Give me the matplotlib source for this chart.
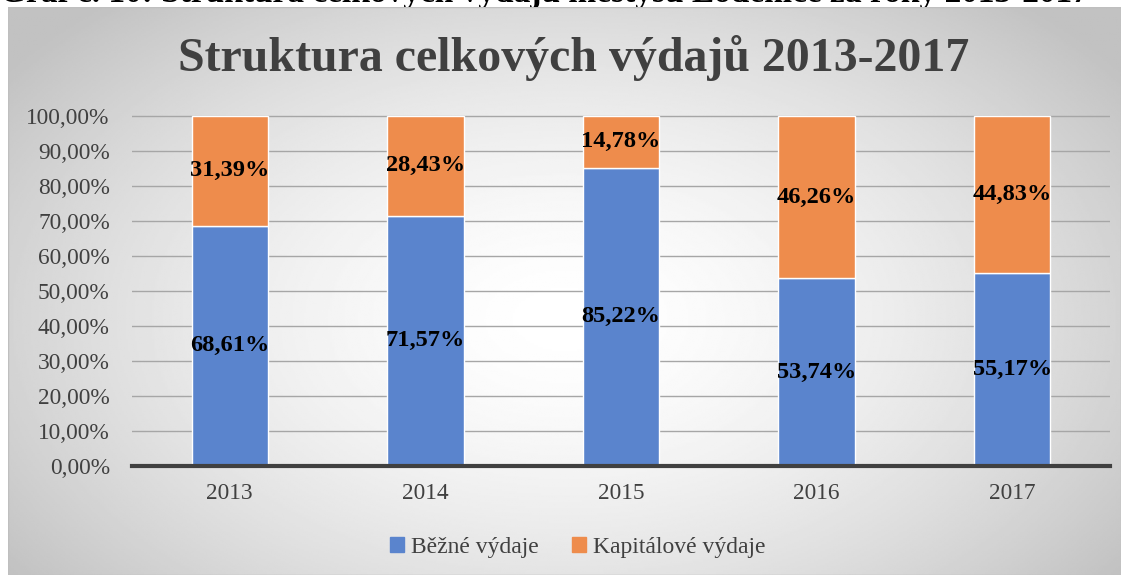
import numpy as np
import matplotlib.pyplot as plt
from matplotlib.patches import Rectangle

# data
years = ["2013", "2014", "2015", "2016", "2017"]
bezne = [68.61, 71.57, 85.22, 53.74, 55.17]
kapitalove = [31.39, 28.43, 14.78, 46.26, 44.83]
yticks = [0, 10, 20, 30, 40, 50, 60, 70, 80, 90, 100]

title = "Struktura celkových výdajů 2013-2017"
caption = "Graf č. 10: Struktura celkových výdajů městysu Lodenice za roky 2013-2017"
series_names = ["Běžné výdaje", "Kapitálové výdaje"]

blue = "#5a84cd"
orange = "#ee8c4c"
serif = ["Liberation Serif", "DejaVu Serif"]
plt.rcParams['font.family'] = serif

W, H = 1129, 575
fig = plt.figure(figsize=(W / 100, H / 100), dpi=100)
fig.patch.set_facecolor("white")

# cut-off caption at the top of the page (page text above the chart)
fig.text(0.0, 1 - 2 / H, caption, fontsize=24, fontweight="bold",
         ha="left", va="baseline", color="black", zorder=0)

# radial gradient background of the chart area
bg = fig.add_axes([8 / W, 0, 1113 / W, 568 / H])
bg.set_zorder(1)
yy, xx = np.mgrid[0:1:300j, 0:1:600j]
r = np.sqrt(((xx - 0.5) / 0.62) ** 2 + ((yy - 0.55) / 0.75) ** 2)
val = 1.0 - 0.24 * np.clip(r, 0, 1) ** 1.6
bg.imshow(val, cmap="gray", vmin=0, vmax=1, aspect="auto", extent=[0, 1, 0, 1])
bg.set_axis_off()
bg.add_patch(Rectangle((0, 0), 1, 1, transform=bg.transAxes, fill=False,
                       edgecolor="#bfbfbf", lw=1))

ax = fig.add_axes([132 / W, 109 / H, 978 / W, 357 / H])
ax.set_zorder(2)
ax.patch.set_alpha(0)
x = np.arange(len(years))
ax.bar(x, bezne, width=0.39, color=blue, edgecolor="white", linewidth=1, zorder=3)
ax.bar(x, kapitalove, bottom=bezne, width=0.39, color=orange, edgecolor="white",
       linewidth=1, zorder=3)

for i in range(len(years)):
    ax.text(x[i], bezne[i] / 2, f"{bezne[i]:.2f}%".replace(".", ","),
            ha="center", va="center", fontsize=17.6, fontweight="bold", zorder=4)
    ax.text(x[i], bezne[i] + kapitalove[i] / 2, f"{kapitalove[i]:.2f}%".replace(".", ","),
            ha="center", va="center", fontsize=17.6, fontweight="bold", zorder=4)

ax.set_xlim(-0.5, len(years) - 0.5)
ax.set_ylim(0, 102)
ax.set_yticks(yticks)
ax.set_yticklabels([f"{t:.2f}%".replace(".", ",") for t in yticks])
ax.set_xticks(x)
ax.set_xticklabels(years)
ax.tick_params(axis="both", length=0, labelsize=16.8, colors="#404040")
ax.tick_params(axis="y", pad=16)
ax.tick_params(axis="x", pad=12)
ax.grid(axis="y", color="#a6a6a6", linewidth=1, zorder=0)
for s in ["top", "right", "left"]:
    ax.spines[s].set_visible(False)
ax.spines["bottom"].set_color("#404040")
ax.spines["bottom"].set_linewidth(3)
ax.spines["bottom"].set_zorder(5)

fig.text(574 / W, 1 - 58 / H, title, fontsize=34.5, fontweight="bold",
         color="#404040", ha="center", va="center", zorder=3)

handles = [Rectangle((0, 0), 1, 1, color=blue), Rectangle((0, 0), 1, 1, color=orange)]
leg = fig.legend(handles, series_names, loc="center", bbox_to_anchor=(578 / W, 1 - 547 / H),
                 ncol=2, frameon=False, fontsize=17, handlelength=0.6, handleheight=0.6,
                 handletextpad=0.3, columnspacing=1.4, labelcolor="#404040")
leg.set_zorder(3)

fig.savefig("out.png", dpi=100)
